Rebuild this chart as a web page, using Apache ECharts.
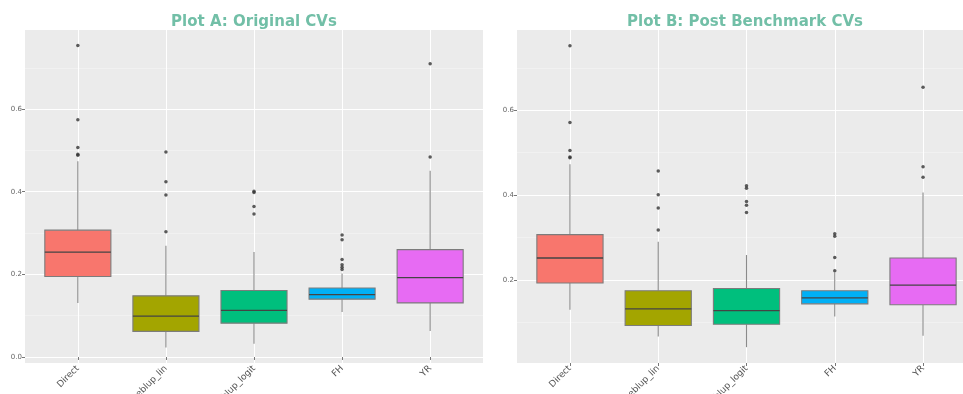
<!DOCTYPE html>
<html><head><meta charset="utf-8">
<script src="https://cdn.jsdelivr.net/npm/echarts@6/dist/echarts.min.js"></script>
<style>html,body{margin:0;padding:0;background:#fff}#c{width:963px;height:394px}</style>
</head><body><div id="c"></div>
<script>
// ---------- data ----------
const categories = ['Direct', 'eblup_lin', 'eblup_logit', 'FH', 'YR'];
const boxColors = ['#F8766D', '#A3A500', '#00BF7D', '#00B0F6', '#E76BF3'];
const titles = ['Plot A: Original CVs', 'Plot B: Post Benchmark CVs'];

// [lower whisker, Q1, median, Q3, upper whisker]
const statsA = [
  [0.131, 0.195, 0.254, 0.307, 0.474],
  [0.023, 0.062, 0.099, 0.148, 0.269],
  [0.032, 0.082, 0.113, 0.161, 0.254],
  [0.109, 0.140, 0.151, 0.167, 0.202],
  [0.063, 0.131, 0.192, 0.260, 0.451]
];
const outliersA = [
  [0.754, 0.574, 0.507, 0.491, 0.488],
  [0.496, 0.424, 0.392, 0.303],
  [0.401, 0.398, 0.364, 0.346],
  [0.295, 0.284, 0.236, 0.223, 0.217, 0.212],
  [0.710, 0.484]
];
const statsB = [
  [0.130, 0.193, 0.252, 0.307, 0.473],
  [0.067, 0.093, 0.132, 0.175, 0.290],
  [0.042, 0.096, 0.128, 0.180, 0.259],
  [0.114, 0.144, 0.158, 0.175, 0.218],
  [0.069, 0.142, 0.188, 0.252, 0.406]
];
const outliersB = [
  [0.752, 0.571, 0.505, 0.490, 0.488],
  [0.457, 0.401, 0.370, 0.318],
  [0.422, 0.416, 0.385, 0.376, 0.359],
  [0.309, 0.303, 0.253, 0.222],
  [0.654, 0.467, 0.442]
];
const yTicksA = [0.0, 0.2, 0.4, 0.6];
const yTicksB = [0.2, 0.4, 0.6];
const yMinor = [0.1, 0.3, 0.5, 0.7];
const yRangeA = [-0.0145, 0.7914];
const yRangeB = [0.0047, 0.789];

// ---------- build ----------
const xPos = categories.map((c, i) => i + 1);
const FONT = 'DejaVu Sans';

function boxData(stats) {
  return stats.map((s, i) => [xPos[i]].concat(s));
}
function outlierData(outs) {
  const r = [];
  outs.forEach((arr, i) => arr.forEach(v => r.push([xPos[i], v])));
  return r;
}
function renderBox(params, api) {
  const x = api.value(0);
  const lo = api.coord([x, api.value(1)]);
  const q1 = api.coord([x, api.value(2)]);
  const md = api.coord([x, api.value(3)]);
  const q3 = api.coord([x, api.value(4)]);
  const hi = api.coord([x, api.value(5)]);
  const hw = api.size([0.75, 0])[0] / 2;
  const wStyle = { stroke: '#8a8a8a', lineWidth: 1.1 };
  return {
    type: 'group',
    children: [
      { type: 'line', shape: { x1: lo[0], y1: lo[1], x2: q1[0], y2: q1[1] }, style: wStyle },
      { type: 'line', shape: { x1: q3[0], y1: q3[1], x2: hi[0], y2: hi[1] }, style: wStyle },
      { type: 'rect', shape: { x: q3[0] - hw, y: q3[1], width: hw * 2, height: q1[1] - q3[1] },
        style: { fill: boxColors[params.dataIndex], stroke: '#7c7c7c', lineWidth: 1.1 } },
      { type: 'line', shape: { x1: md[0] - hw, y1: md[1], x2: md[0] + hw, y2: md[1] },
        style: { stroke: '#444', lineWidth: 1.3 } }
    ]
  };
}

function xAxisFor(gi) {
  return {
    type: 'value', gridIndex: gi, min: 0.4, max: 5.6,
    axisLine: { show: false },
    axisTick: { show: true, customValues: xPos, length: 3, lineStyle: { color: '#777' } },
    axisLabel: {
      customValues: xPos, formatter: v => categories[Math.round(v) - 1],
      rotate: 45, fontSize: 9, color: '#555', margin: 4, fontFamily: FONT
    },
    splitLine: { show: true, lineStyle: { color: '#ffffff', width: 1 } }
  };
}
function yAxisMajor(gi, range, ticks) {
  return {
    type: 'value', gridIndex: gi, min: range[0], max: range[1],
    axisLine: { show: false },
    axisTick: { show: true, customValues: ticks, length: 3, lineStyle: { color: '#777' } },
    axisLabel: { customValues: ticks, formatter: v => v.toFixed(1), fontSize: 7, color: '#666', margin: 3, fontFamily: FONT },
    splitLine: { show: true, lineStyle: { color: '#ffffff', width: 1 } }
  };
}
function yAxisMinor(gi, range) {
  return {
    type: 'value', gridIndex: gi, min: range[0], max: range[1], position: 'left',
    axisLine: { show: false },
    axisTick: { show: false, customValues: yMinor },
    axisLabel: { show: false, customValues: yMinor },
    splitLine: { show: true, lineStyle: { color: '#f5f5f5', width: 0.6 } }
  };
}

const option = {
  animation: false,
  backgroundColor: '#ffffff',
  grid: [
    { left: 25, top: 30, width: 458, height: 333, show: true, backgroundColor: '#EBEBEB', borderWidth: 0, containLabel: false, outerBoundsMode: 'none' },
    { left: 517, top: 30, width: 459, height: 333, show: true, backgroundColor: '#EBEBEB', borderWidth: 0, containLabel: false, outerBoundsMode: 'none' }
  ],
  xAxis: [xAxisFor(0), xAxisFor(1)],
  yAxis: [yAxisMajor(0, yRangeA, yTicksA), yAxisMinor(0, yRangeA), yAxisMajor(1, yRangeB, yTicksB), yAxisMinor(1, yRangeB)],
  graphic: [
    { type: 'text', x: 254, y: 22, style: { text: titles[0], align: 'center', verticalAlign: 'middle', fill: '#72bfa7', font: 'bold 15px "DejaVu Sans"' } },
    { type: 'text', x: 745, y: 22, style: { text: titles[1], align: 'center', verticalAlign: 'middle', fill: '#72bfa7', font: 'bold 15px "DejaVu Sans"' } }
  ],
  series: [
    { type: 'custom', xAxisIndex: 0, yAxisIndex: 0, renderItem: renderBox, encode: { x: 0, y: [1, 2, 3, 4, 5] }, data: boxData(statsA), z: 2 },
    { type: 'scatter', xAxisIndex: 0, yAxisIndex: 0, data: outlierData(outliersA), symbolSize: 3.5, itemStyle: { color: '#333' }, z: 3 },
    { type: 'custom', xAxisIndex: 1, yAxisIndex: 2, renderItem: renderBox, encode: { x: 0, y: [1, 2, 3, 4, 5] }, data: boxData(statsB), z: 2 },
    { type: 'scatter', xAxisIndex: 1, yAxisIndex: 2, data: outlierData(outliersB), symbolSize: 3.5, itemStyle: { color: '#333' }, z: 3 }
  ]
};
const chart = echarts.init(document.getElementById('c'), null, { renderer: 'canvas' });
chart.setOption(option);
</script>
</body></html>
